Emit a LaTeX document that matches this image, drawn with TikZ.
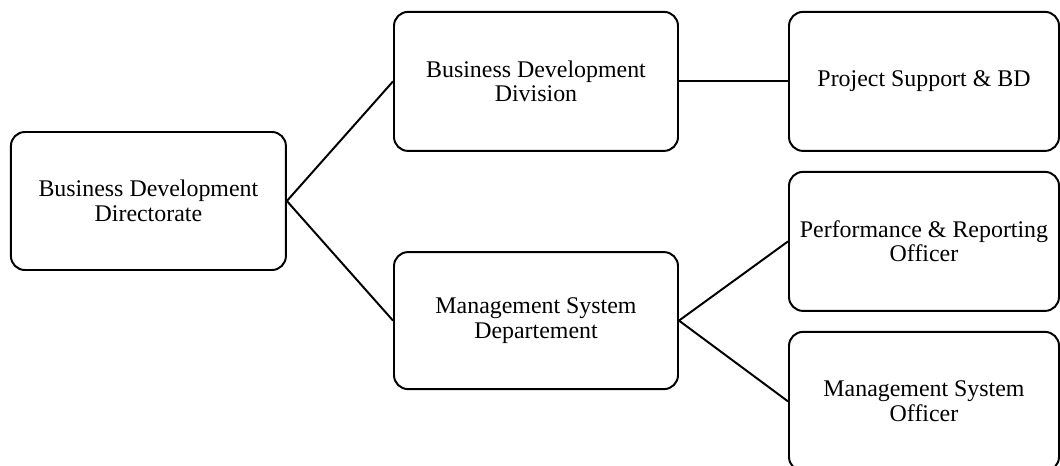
\documentclass[tikz,border=0pt]{standalone}
\usepackage{fontspec}
\setmainfont{Liberation Serif}
\usepackage{tikz}
\usetikzlibrary{positioning,calc}

\begin{document}
\begin{tikzpicture}[unit/.style={draw=black, line width=1.4pt, rounded corners=0.35cm, align=center, inner sep=0pt, font=\fontsize{17}{17.5}\selectfont},
	link/.style={black, line width=1.4pt}]
		\clip (0,0) rectangle (26.5,11.625);
		\useasboundingbox (0,0) rectangle (26.5,11.625);

		\node (dir) at (3.71,6.6) [unit, minimum width=6.875cm, minimum height=3.45cm] {Business Development\\Directorate};

		\node (div) at (13.4,9.59) [unit, minimum width=7.1cm, minimum height=3.475cm] {Business Development\\Division};
		\node (msd) at (13.4,3.61) [unit, minimum width=7.1cm, minimum height=3.425cm] {Management System\\Departement};

		\node (psbd) at (23.1,9.59) [unit, minimum width=6.75cm, minimum height=3.475cm] {Project Support \& BD};
		\node (pro) at (23.1,5.59) [unit, minimum width=6.75cm, minimum height=3.475cm] {Performance \& Reporting\\Officer};
		\node (mso) at (23.1,1.59) [unit, minimum width=6.75cm, minimum height=3.475cm] {Management System\\Officer};

		\draw [link] (dir.east) -- (div.west);
		\draw [link] (dir.east) -- (msd.west);
		\draw [link] (div.east) -- (psbd.west);
		\draw [link] (msd.east) -- (pro.west);
		\draw [link] (msd.east) -- (mso.west);
	\end{tikzpicture}
\end{document}
